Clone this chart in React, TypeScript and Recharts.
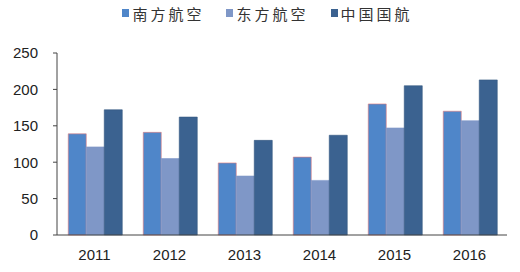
import { Bar, BarChart, Legend, XAxis, YAxis } from "recharts";

const years = ["2011", "2012", "2013", "2014", "2015", "2016"];
const southern = [139, 141, 99, 107, 180, 170];
const eastern = [121, 105, 81, 75, 147, 157];
const airChina = [172, 162, 130, 137, 205, 213];
const yTicks = [0, 50, 100, 150, 200, 250];

const series = [
  { key: "南方航空", color: "#4f86c9", stroke: "#e07a7a" },
  { key: "东方航空", color: "#7f97c7", stroke: "#7f97c7" },
  { key: "中国国航", color: "#3b6290", stroke: "#34587f" },
];

const data = years.map((year, i) => ({
  year,
  南方航空: southern[i],
  东方航空: eastern[i],
  中国国航: airChina[i],
}));

function TopLegend() {
  return (
    <div
      style={{
        height: 30,
        display: "flex",
        justifyContent: "center",
        alignItems: "center",
        gap: 22,
        paddingLeft: 28,
        marginTop: -2,
      }}
    >
      {series.map((s) => (
        <span key={s.key} style={{ display: "flex", alignItems: "center" }}>
          <span
            style={{
              width: 7,
              height: 8,
              background: s.color,
              marginRight: 3,
              display: "inline-block",
            }}
          />
          <span
            style={{
              fontFamily: "'Noto Sans CJK SC', sans-serif",
              fontSize: 15,
              letterSpacing: 3,
              color: "#333",
            }}
          >
            {s.key}
          </span>
        </span>
      ))}
    </div>
  );
}

export default function App() {
  const tickFont = { fontFamily: "'Liberation Sans', Arial, sans-serif", fontSize: 15, fill: "#222" };
  return (
    <div style={{ position: "absolute", left: 0, top: 0, background: "#fff" }}>
      <BarChart
        width={520}
        height={272}
        data={data}
        margin={{ top: 25, right: 13, bottom: 7, left: 0 }}
        barCategoryGap="15%"
        barGap={0}
      >
        <Legend verticalAlign="top" content={<TopLegend />} wrapperStyle={{ top: 0 }} />
        <XAxis
          dataKey="year"
          tick={tickFont}
          tickLine={false}
          tickSize={6}
          tickMargin={8}
          axisLine={{ stroke: "#444" }}
        />
        <YAxis
          domain={[0, 250]}
          ticks={yTicks}
          width={57}
          tick={tickFont}
          tickSize={4}
          tickMargin={15}
          axisLine={{ stroke: "#444" }}
          tickLine={{ stroke: "#444" }}
        />
        {series.map((s) => (
          <Bar
            key={s.key}
            dataKey={s.key}
            fill={s.color}
            stroke={s.stroke}
            strokeWidth={0.6}
            isAnimationActive={false}
          />
        ))}
      </BarChart>
    </div>
  );
}
